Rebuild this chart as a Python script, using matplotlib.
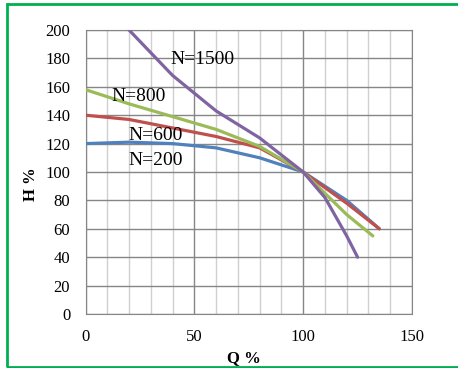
import matplotlib
matplotlib.use("Agg")
import matplotlib.pyplot as plt
from matplotlib.patches import Rectangle
from matplotlib.ticker import MultipleLocator

plt.rcParams['font.family'] = ['Liberation Serif', 'DejaVu Serif']

q200 = [0, 20, 40, 60, 80, 100, 120, 135]
h200 = [120, 121, 120, 117, 110, 100, 80, 60]
q600 = [0, 20, 40, 60, 80, 100, 120, 135]
h600 = [140, 137, 131, 125, 117, 100, 78, 60]
q800 = [0, 20, 40, 60, 80, 100, 120, 132]
h800 = [158, 148, 139, 130, 118, 100, 70, 55]
q1500 = [20, 40, 60, 80, 100, 110, 120, 125]
h1500 = [200, 168, 143, 124, 100, 82, 55, 40]

labels = ["N=200", "N=600", "N=800", "N=1500"]
label_pos = [(19.5, 108), (19.5, 126), (12, 153), (38.8, 179)]
colors = ["#4F81BD", "#C0504D", "#9BBB59", "#8064A2"]

W, H = 458, 368
fig = plt.figure(figsize=(W/100, H/100), dpi=100)
ax = fig.add_axes([85.5/W, 1-314/H, (412-85.5)/W, (314-30)/H])

series = [(q200, h200), (q600, h600), (q800, h800), (q1500, h1500)]
for (q, h), c in zip(series, colors):
    ax.plot(q, h, color=c, lw=2.3, solid_capstyle='round', zorder=3)

for lab, (x, y) in zip(labels, label_pos):
    ax.text(x, y, lab, fontsize=14, ha='left', va='center', zorder=4)

ax.set_xlim(0, 150)
ax.set_ylim(0, 200)
ax.xaxis.set_major_locator(MultipleLocator(50))
ax.xaxis.set_minor_locator(MultipleLocator(10))
ax.yaxis.set_major_locator(MultipleLocator(20))
ax.grid(which='minor', axis='x', color='#D0D0D0', lw=1)
ax.grid(which='major', axis='x', color='#868686', lw=1)
ax.grid(which='major', axis='y', color='#868686', lw=1)
ax.set_axisbelow(True)
for s in ax.spines.values():
    s.set_color('#868686')
ax.tick_params(which='both', length=0, labelsize=12)
ax.tick_params(axis='y', pad=11)
ax.tick_params(axis='x', pad=11)

fig.text(244/W, 1-358/H, "Q %", fontsize=12, fontweight='bold', ha='center', va='center')
fig.text(31/W, 1-184/H, "H %", fontsize=12, fontweight='bold', ha='center', va='center', rotation=90)

fig.patches.append(Rectangle((7/W, 1/H), 1.0, 363/H, transform=fig.transFigure,
                             fill=False, edgecolor='#00B050', lw=2, figure=fig))

fig.savefig("out.png", dpi=100)
